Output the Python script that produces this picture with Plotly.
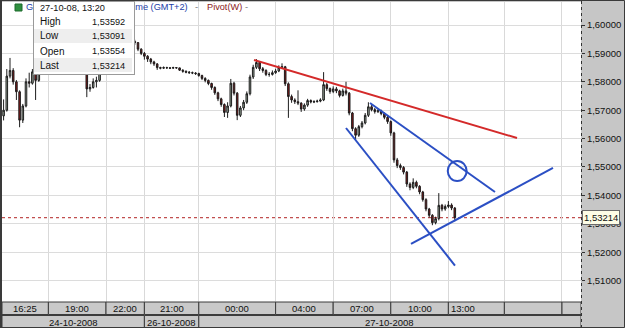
import plotly.graph_objects as go

# ---------------- data (10-minute bars, GBP/CHF style) ----------------
bar_index = list(range(142))

opens = [1.5680, 1.5700, 1.5820, 1.5840, 1.5800, 1.5765, 1.5665, 1.5715, 1.5800, 1.5795,
         1.5835, 1.5805, 1.5845, 1.5848, 1.5840, 1.5848, 1.5852, 1.5845, 1.5855, 1.5862,
         1.5870, 1.5865, 1.5860, 1.5856, 1.5852, 1.5850, 1.5835, 1.5775, 1.5780, 1.5800,
         1.5805, 1.5848, 1.5862, 1.5870, 1.5886, 1.5895, 1.5900, 1.5915, 1.5922, 1.5930,
         1.5936, 1.5942, 1.5938, 1.5915, 1.5900, 1.5890, 1.5880, 1.5870, 1.5863, 1.5850,
         1.5848, 1.5850, 1.5849, 1.5848, 1.5850, 1.5849, 1.5841, 1.5837, 1.5834, 1.5832,
         1.5831, 1.5829, 1.5822, 1.5812, 1.5805, 1.5794, 1.5780, 1.5761, 1.5740, 1.5720,
         1.5692, 1.5715, 1.5795, 1.5760, 1.5682, 1.5708, 1.5728, 1.5758, 1.5817, 1.5851,
         1.5868, 1.5846, 1.5840, 1.5826, 1.5826, 1.5832, 1.5838, 1.5850, 1.5853, 1.5793,
         1.5748, 1.5736, 1.5730, 1.5725, 1.5704, 1.5718, 1.5734, 1.5729, 1.5730, 1.5732,
         1.5736, 1.5790, 1.5776, 1.5766, 1.5775, 1.5768, 1.5752, 1.5768, 1.5760, 1.5690,
         1.5635, 1.5612, 1.5642, 1.5655, 1.5682, 1.5712, 1.5702, 1.5695, 1.5698, 1.5688,
         1.5675, 1.5660, 1.5620, 1.5525, 1.5505, 1.5498, 1.5482, 1.5440, 1.5428, 1.5446,
         1.5432, 1.5412, 1.5385, 1.5352, 1.5330, 1.5304, 1.5318, 1.5365, 1.5352, 1.5361,
         1.5366, 1.53554]

highs = [1.5738, 1.5845, 1.5884, 1.5848, 1.5806, 1.5770, 1.5722, 1.5812, 1.5832, 1.5845,
         1.5842, 1.5856, 1.5860, 1.5855, 1.5856, 1.5860, 1.5858, 1.5862, 1.5870, 1.5878,
         1.5876, 1.5870, 1.5866, 1.5862, 1.5858, 1.5854, 1.5838, 1.5792, 1.5812, 1.5818,
         1.5855, 1.5870, 1.5880, 1.5894, 1.5904, 1.5910, 1.5922, 1.5930, 1.5938, 1.5945,
         1.5950, 1.5948, 1.5940, 1.5918, 1.5905, 1.5894, 1.5884, 1.5874, 1.5866, 1.5853,
         1.5854, 1.5853, 1.5852, 1.5853, 1.5852, 1.5850, 1.5844, 1.5840, 1.5838, 1.5836,
         1.5834, 1.5832, 1.5825, 1.5816, 1.5808, 1.5797, 1.5784, 1.5765, 1.5744, 1.5724,
         1.5728, 1.5810, 1.5800, 1.5764, 1.5715, 1.5736, 1.5766, 1.5825, 1.5860, 1.5880,
         1.5872, 1.5852, 1.5844, 1.5834, 1.5840, 1.5846, 1.5858, 1.5865, 1.5856, 1.5798,
         1.5755, 1.5742, 1.5770, 1.5728, 1.5724, 1.5740, 1.5738, 1.5735, 1.5737, 1.5742,
         1.5834, 1.5796, 1.5780, 1.5784, 1.5782, 1.5772, 1.5776, 1.5800, 1.5764, 1.5694,
         1.5640, 1.5648, 1.5662, 1.5690, 1.5728, 1.5718, 1.5708, 1.5705, 1.5702, 1.5692,
         1.5680, 1.5664, 1.5624, 1.5532, 1.5512, 1.5503, 1.5486, 1.5446, 1.5460, 1.5452,
         1.5436, 1.5416, 1.5390, 1.5356, 1.5334, 1.5325, 1.5408, 1.5370, 1.5368, 1.5380,
         1.5372, 1.53592]

lows = [1.5664, 1.5695, 1.5812, 1.5790, 1.5736, 1.5640, 1.5655, 1.5710, 1.5780, 1.5790,
        1.5736, 1.5800, 1.5835, 1.5832, 1.5834, 1.5842, 1.5840, 1.5840, 1.5850, 1.5858,
        1.5860, 1.5855, 1.5850, 1.5846, 1.5842, 1.5826, 1.5746, 1.5765, 1.5776, 1.5780,
        1.5800, 1.5842, 1.5856, 1.5865, 1.5880, 1.5890, 1.5895, 1.5910, 1.5918, 1.5926,
        1.5930, 1.5930, 1.5908, 1.5894, 1.5878, 1.5870, 1.5862, 1.5856, 1.5842, 1.5844,
        1.5845, 1.5846, 1.5845, 1.5846, 1.5846, 1.5838, 1.5832, 1.5830, 1.5828, 1.5827,
        1.5824, 1.5818, 1.5806, 1.5798, 1.5788, 1.5772, 1.5754, 1.5732, 1.5712, 1.5676,
        1.5673, 1.5710, 1.5752, 1.5665, 1.5676, 1.5700, 1.5722, 1.5752, 1.5810, 1.5845,
        1.5838, 1.5832, 1.5820, 1.5818, 1.5822, 1.5828, 1.5834, 1.5845, 1.5785, 1.5673,
        1.5726, 1.5722, 1.5718, 1.5694, 1.5698, 1.5712, 1.5724, 1.5725, 1.5727, 1.5728,
        1.5732, 1.5768, 1.5758, 1.5760, 1.5760, 1.5745, 1.5748, 1.5752, 1.5682, 1.5626,
        1.5595, 1.5606, 1.5636, 1.5650, 1.5676, 1.5696, 1.5688, 1.5690, 1.5682, 1.5668,
        1.5652, 1.5610, 1.5515, 1.5496, 1.5490, 1.5474, 1.5430, 1.5418, 1.5422, 1.5425,
        1.5404, 1.5378, 1.5344, 1.5322, 1.5295, 1.5298, 1.5312, 1.5344, 1.5346, 1.5355,
        1.5348, 1.53091]

closes = [1.5700, 1.5820, 1.5840, 1.5800, 1.5765, 1.5665, 1.5715, 1.5800, 1.5795, 1.5835,
          1.5805, 1.5845, 1.5848, 1.5840, 1.5848, 1.5852, 1.5845, 1.5855, 1.5862, 1.5870,
          1.5865, 1.5860, 1.5856, 1.5852, 1.5850, 1.5835, 1.5775, 1.5780, 1.5800, 1.5805,
          1.5848, 1.5862, 1.5870, 1.5886, 1.5895, 1.5900, 1.5915, 1.5922, 1.5930, 1.5936,
          1.5942, 1.5938, 1.5915, 1.5900, 1.5890, 1.5880, 1.5870, 1.5863, 1.5850, 1.5848,
          1.5850, 1.5849, 1.5848, 1.5850, 1.5849, 1.5841, 1.5837, 1.5834, 1.5832, 1.5831,
          1.5829, 1.5822, 1.5812, 1.5805, 1.5794, 1.5780, 1.5761, 1.5740, 1.5720, 1.5692,
          1.5715, 1.5795, 1.5760, 1.5682, 1.5708, 1.5728, 1.5758, 1.5817, 1.5851, 1.5868,
          1.5846, 1.5840, 1.5826, 1.5826, 1.5832, 1.5838, 1.5850, 1.5853, 1.5793, 1.5748,
          1.5736, 1.5730, 1.5725, 1.5704, 1.5718, 1.5734, 1.5729, 1.5730, 1.5732, 1.5736,
          1.5790, 1.5776, 1.5766, 1.5775, 1.5768, 1.5752, 1.5768, 1.5760, 1.5690, 1.5635,
          1.5612, 1.5642, 1.5655, 1.5682, 1.5712, 1.5702, 1.5695, 1.5698, 1.5688, 1.5675,
          1.5660, 1.5620, 1.5525, 1.5505, 1.5498, 1.5482, 1.5440, 1.5428, 1.5446, 1.5432,
          1.5412, 1.5385, 1.5352, 1.5330, 1.5304, 1.5318, 1.5365, 1.5352, 1.5361, 1.5366,
          1.53554, 1.53214]

y_ticks = [1.51, 1.52, 1.53, 1.54, 1.55, 1.56, 1.57, 1.58, 1.59, 1.60]
y_tick_labels = ["1,51000", "1,52000", "1,53000", "1,54000", "1,55000",
                 "1,56000", "1,57000", "1,58000", "1,59000", "1,60000"]

x_range = [-0.5, 180.44]
y_range = [1.50246, 1.60810]

time_cells = [-0.5, 14, 32, 44, 61, 85, 103, 121, 139, 156.5, 174.5, 180.44]
time_labels = ["16:25", "19:00", "22:00", "21:00", "00:00", "04:00", "07:00",
               "10:00", "13:00", "", ""]
date_cells = [-0.5, 44, 61, 180.44]
date_labels = ["24-10-2008", "26-10-2008", "27-10-2008"]

last_price = 1.53214
last_price_label = "1,53214"

title_main = "GBP/CHF - 10 Minutes - Time (GMT+2)"
title_indicator = "Pivot(W)"

tooltip_header = "27-10-08, 13:20"
tooltip_names = ["High", "Low", "Open", "Last"]
tooltip_values = ["1,53592", "1,53091", "1,53554", "1,53214"]

# user-drawn trend lines (bar index, price)
red_line = [(78.25, 1.58768), (160.44, 1.56021)]
blue_lines = [
    [(107.0, 1.56373), (141.06, 1.51530)],
    [(114.5, 1.57254), (153.56, 1.54120)],
    [(127.31, 1.52289), (171.69, 1.54965)],
]
circle_box = [(138.8, 1.54507), (144.7, 1.55211)]

# ---------------- figure ----------------
W, H = 625, 328
ML, MR, MT, MB = 2, 44, 2, 26
PW, PH = W - ML - MR, H - MT - MB


def PX(px):
    return (px - ML) / PW


def PY(py):
    return (MT + PH - py) / PH


FONT = "Liberation Sans"

fig = go.Figure(go.Candlestick(
    x=bar_index, open=opens, high=highs, low=lows, close=closes,
    increasing=dict(line=dict(color="#1c1c1c", width=1), fillcolor="#9fae9f"),
    decreasing=dict(line=dict(color="#1c1c1c", width=1), fillcolor="#8a1616"),
    whiskerwidth=0, hoverinfo="skip", showlegend=False,
))

shapes = []
shapes.append(dict(type="line", xref="x", yref="y", x0=x_range[0], x1=x_range[1],
                   y0=last_price, y1=last_price, layer="below",
                   line=dict(color="#b22222", width=1, dash="dot")))
shapes.append(dict(type="line", xref="x", yref="y", x0=red_line[0][0], y0=red_line[0][1],
                   x1=red_line[1][0], y1=red_line[1][1],
                   line=dict(color="#d42a2a", width=2)))
for ln in blue_lines:
    shapes.append(dict(type="line", xref="x", yref="y", x0=ln[0][0], y0=ln[0][1],
                       x1=ln[1][0], y1=ln[1][1], line=dict(color="#2b4fc4", width=2)))
shapes.append(dict(type="circle", xref="x", yref="y", x0=circle_box[0][0], y0=circle_box[0][1],
                   x1=circle_box[1][0], y1=circle_box[1][1],
                   line=dict(color="#2b4fc4", width=2)))

for i in range(len(time_labels)):
    shapes.append(dict(type="rect", xref="x", yref="paper",
                       x0=time_cells[i], x1=time_cells[i + 1], y0=PY(314.5), y1=PY(302),
                       fillcolor="#c9c9c9", line=dict(color="#3c3c3c", width=1)))
for i in range(len(date_labels)):
    shapes.append(dict(type="rect", xref="x", yref="paper",
                       x0=date_cells[i], x1=date_cells[i + 1], y0=PY(327.5), y1=PY(315.5),
                       fillcolor="#c9c9c9", line=dict(color="#3c3c3c", width=1)))
shapes.append(dict(type="line", xref="paper", yref="paper", x0=PX(581.5), x1=PX(581.5),
                   y0=PY(328), y1=PY(0), line=dict(color="#333333", width=1, dash="dot")))
shapes.append(dict(type="rect", xref="paper", yref="paper", x0=PX(0.5), x1=PX(624.5),
                   y0=PY(327.5), y1=PY(0.5), line=dict(color="#3a3a3a", width=1)))
shapes.append(dict(type="line", xref="paper", yref="paper", x0=PX(1), x1=PX(1),
                   y0=PY(328), y1=PY(0), line=dict(color="#3a3a3a", width=2)))
shapes.append(dict(type="rect", xref="paper", yref="paper", x0=PX(15), x1=PX(22),
                   y0=PY(11), y1=PY(4), fillcolor="#2f8f3f", line=dict(color="#1d6a2c", width=1)))

ann = []
for i, lab in enumerate(time_labels):
    if not lab:
        continue
    if lab == "13:00":
        ann.append(dict(x=time_cells[i] + 0.2, xanchor="left"))
    else:
        ann.append(dict(x=(time_cells[i] + time_cells[i + 1]) / 2, xanchor="center"))
    ann[-1].update(text=lab, xref="x", yref="paper", y=PY(308.5), yanchor="middle",
                   showarrow=False, font=dict(family=FONT, size=9.5, color="#111111"))
for i, lab in enumerate(date_labels):
    ann.append(dict(text=lab, xref="x", yref="paper", x=(date_cells[i] + date_cells[i + 1]) / 2,
                    xanchor="center", y=PY(322), yanchor="middle", showarrow=False,
                    font=dict(family=FONT, size=9.5, color="#111111")))

ann.append(dict(text=last_price_label, xref="paper", yref="y", x=PX(582), y=last_price,
                xanchor="left", yanchor="middle", showarrow=False, bgcolor="#fdfde6",
                bordercolor="#6a6a6a", borderwidth=1, borderpad=1,
                font=dict(family=FONT, size=9.5, color="#111111")))

# title (partly hidden by the tooltip)
ann.append(dict(text=title_main, xref="paper", yref="paper", x=PX(24), y=PY(7.5),
                xanchor="left", yanchor="middle", showarrow=False,
                font=dict(family=FONT, size=9.2, color="#2340a8")))
ann.append(dict(text="-", xref="paper", yref="paper", x=PX(197), y=PY(7.5),
                xanchor="center", yanchor="middle", showarrow=False,
                font=dict(family=FONT, size=9.2, color="#777777")))
ann.append(dict(text=title_indicator, xref="paper", yref="paper", x=PX(205), y=PY(7.5),
                xanchor="left", yanchor="middle", showarrow=False,
                font=dict(family=FONT, size=9.2, color="#8b1a1a")))
ann.append(dict(text="-", xref="paper", yref="paper", x=PX(246), y=PY(7.5),
                xanchor="center", yanchor="middle", showarrow=False,
                font=dict(family=FONT, size=9.2, color="#777777")))

# tooltip box
ann.append(dict(text=" ", xref="paper", yref="paper", x=PX(33), y=PY(1), xanchor="left",
                yanchor="top", width=100, height=72, bgcolor="#ffffff", bordercolor="#9a9a9a",
                borderwidth=1, borderpad=0, showarrow=False))
for top in (29, 58):
    ann.append(dict(text=" ", xref="paper", yref="paper", x=PX(34), y=PY(top), xanchor="left",
                    yanchor="top", width=98, height=14, bgcolor="#eeeeee", borderwidth=0,
                    borderpad=0, showarrow=False))
ann.append(dict(text=tooltip_header, xref="paper", yref="paper", x=PX(38), y=PY(8),
                xanchor="left", yanchor="middle", showarrow=False,
                font=dict(family=FONT, size=9.2, color="#111111")))
row_y = [22, 36, 51, 65.5]
for name, val, yy in zip(tooltip_names, tooltip_values, row_y):
    ann.append(dict(text=name, xref="paper", yref="paper", x=PX(38), y=PY(yy),
                    xanchor="left", yanchor="middle", showarrow=False,
                    font=dict(family=FONT, size=10, color="#111111")))
    ann.append(dict(text=val, xref="paper", yref="paper", x=PX(127), y=PY(yy),
                    xanchor="right", yanchor="middle", showarrow=False,
                    font=dict(family=FONT, size=9.2, color="#111111")))

fig.update_layout(
    width=W, height=H,
    margin=dict(l=ML, r=MR, t=MT, b=MB, pad=0),
    paper_bgcolor="#c6c6c6", plot_bgcolor="#ffffff",
    shapes=shapes, annotations=ann, showlegend=False,
    xaxis=dict(range=x_range, rangeslider=dict(visible=False), tickvals=time_cells[1:-1],
               showticklabels=False, ticks="", showgrid=True, gridcolor="#d9d9d9",
               gridwidth=1, zeroline=False, showline=False, fixedrange=True),
    yaxis=dict(range=y_range, side="right", tickvals=y_ticks, ticktext=y_tick_labels,
               ticks="outside", ticklen=3, tickcolor="#333333", showgrid=True,
               gridcolor="#dcdcdc", gridwidth=1, zeroline=False, showline=False,
               tickfont=dict(family=FONT, size=9.5, color="#111111")),
)

fig.write_html("out.html")
